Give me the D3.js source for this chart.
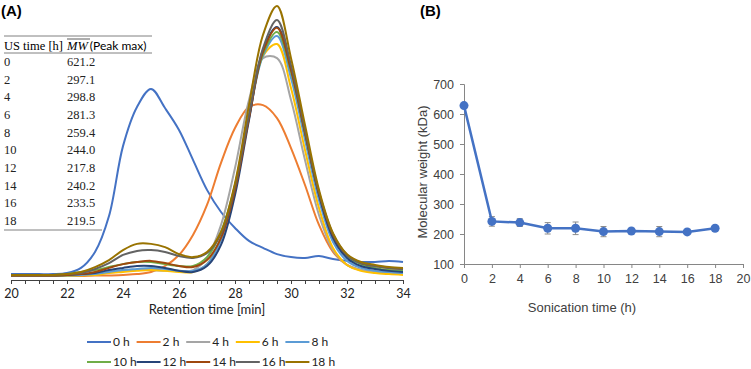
<!DOCTYPE html>
<html>
<head>
  <meta charset="utf-8" />
  <title>Sonication GPC</title>
  <script src="https://d3js.org/d3.v7.min.js"></script>
  <style>
    body { margin: 0; background: #fff; }
    svg { display: block; font-family: "Liberation Sans", Arial, sans-serif; }
  </style>
</head>
<body>
<div id="chart"></div>
<script>
// ---- panel A: GPC traces (relative detector signal vs retention time)
const retention = [20, 20.5, 21, 21.5, 22, 22.5, 23, 23.5, 24, 24.5, 25, 25.5, 26, 26.5, 27,
  27.5, 28, 28.5, 29, 29.5, 30, 30.5, 31, 31.5, 32, 32.5, 33, 33.5, 34];

const sig0h  = [0.7, 0.7, 0.7, 0.7, 1.1, 3.0, 8.9, 22.2, 48.1, 62.6, 69.3, 62.2, 54.1, 43.0, 31.9,
  23.7, 17.8, 13.0, 10.4, 8.1, 7.0, 6.7, 7.4, 6.3, 5.6, 5.2, 5.2, 5.6, 5.2];
const sig2h  = [0, 0, 0, 0, 0, 0, 0.2, 0.2, 0.4, 0.7, 1.5, 3.7, 7.8, 15.2, 26.3,
  41.9, 54.8, 62.6, 63.3, 58.5, 47.4, 33.7, 18.9, 8.9, 4.1, 2.2, 1.5, 1.1, 1.1];
const sig4h  = [0.2, 0.2, 0.2, 0.2, 0.2, 0.4, 0.7, 1.5, 1.9, 2.2, 2.2, 1.9, 1.9, 2.2, 6.7,
  18.9, 40.0, 65.2, 80.7, 80.7, 65.2, 43.0, 22.6, 9.6, 4.1, 2.2, 1.5, 1.1, 0.7];
const sig6h  = [0, 0, 0, 0, 0, 0.2, 0.4, 1.1, 1.5, 1.9, 2.2, 1.9, 1.5, 1.5, 4.4,
  14.1, 33.7, 59.6, 81.5, 85.9, 69.6, 46.7, 25.2, 10.4, 4.1, 1.9, 1.1, 0.7, 0.4];
const sig8h  = [0.2, 0.2, 0.2, 0.2, 0.2, 0.4, 0.7, 1.5, 2.2, 2.6, 3.0, 2.6, 1.9, 1.9, 4.4,
  13.3, 32.6, 58.5, 81.5, 88.9, 73.3, 50.4, 28.1, 12.6, 5.6, 3.0, 1.9, 1.5, 1.1];
const sig10h = [0.4, 0.4, 0.4, 0.4, 0.7, 1.5, 2.2, 3.3, 4.4, 5.2, 5.2, 4.4, 3.7, 3.7, 7.0,
  16.3, 33.7, 59.6, 82.2, 90.4, 75.6, 52.6, 30.4, 14.8, 7.4, 4.4, 3.0, 2.2, 1.9];
const sig12h = [0.2, 0.2, 0.2, 0.2, 0.4, 0.7, 1.1, 2.2, 3.0, 3.7, 3.7, 3.0, 1.9, 1.5, 3.7,
  11.5, 30.0, 57.8, 83.7, 92.2, 77.0, 53.3, 30.0, 14.1, 6.7, 3.7, 2.6, 1.9, 1.5];
const sig14h = [0.2, 0.2, 0.2, 0.2, 0.4, 0.7, 1.5, 3.0, 4.4, 5.2, 5.6, 4.8, 3.7, 3.3, 5.9,
  14.1, 31.9, 58.5, 83.0, 91.9, 76.3, 53.0, 30.7, 15.2, 7.8, 4.8, 3.7, 3.0, 2.6];
const sig16h = [0.4, 0.4, 0.4, 0.4, 0.7, 1.1, 2.6, 4.8, 7.8, 9.3, 9.6, 8.9, 7.4, 6.7, 8.5,
  15.6, 33.3, 59.6, 84.4, 94.8, 78.1, 54.1, 31.1, 15.6, 7.8, 4.8, 3.7, 3.0, 2.6];
const sig18h = [0.4, 0.4, 0.4, 0.4, 0.7, 1.5, 3.3, 5.9, 9.6, 11.9, 11.9, 10.7, 8.1, 7.0, 8.9,
  16.3, 34.4, 63.3, 89.3, 100, 80.7, 55.9, 31.9, 15.9, 8.1, 5.2, 4.1, 3.3, 3.0];

const traceLabels = ["0 h", "2 h", "4 h", "6 h", "8 h", "10 h", "12 h", "14 h", "16 h", "18 h"];
const traceColors = ["#4472c4", "#ed7d31", "#a5a5a5", "#ffc000", "#5b9bd5",
  "#70ad47", "#264478", "#9e480e", "#636363", "#997300"];
const traceValues = [sig0h, sig2h, sig4h, sig6h, sig8h, sig10h, sig12h, sig14h, sig16h, sig18h];

const retentionTicks = [20, 22, 24, 26, 28, 30, 32, 34];

// inset table
const tableTimes = ["0", "2", "4", "6", "8", "10", "12", "14", "16", "18"];
const tablePeakMw = ["621.2", "297.1", "298.8", "281.3", "259.4", "244.0", "217.8", "240.2", "233.5", "219.5"];

// ---- panel B: molecular weight vs sonication time
const sonicTime = [0, 2, 4, 6, 8, 10, 12, 14, 16, 18];
const mwMean = [628, 242, 238, 219, 219, 208, 210, 208, 207, 219];
const mwErr = [5, 16, 13, 19, 21, 17, 4, 17, 4, 6];

const width = 751, height = 369;
const svg = d3.select("#chart").append("svg")
  .attr("width", width).attr("height", height);

const sansA = "Lato, 'Liberation Sans', sans-serif";

// ===== Panel A =====
const xA = d3.scaleLinear().domain([20, 34]).range([11, 403]);
const yA = d3.scaleLinear().domain([0, 100]).range([276, 6]);

svg.append("text").attr("x", 1).attr("y", 16)
  .attr("font-size", 15).attr("font-weight", "bold").text("(A)");

// table
const tbl = svg.append("g");
tbl.append("line").attr("x1", 4).attr("x2", 152).attr("y1", 36).attr("y2", 36)
  .attr("stroke", "#808080");
tbl.append("line").attr("x1", 4).attr("x2", 152).attr("y1", 53).attr("y2", 53)
  .attr("stroke", "#808080");
tbl.append("line").attr("x1", 4).attr("x2", 102).attr("y1", 230).attr("y2", 230)
  .attr("stroke", "#808080");
tbl.append("text").attr("x", 4).attr("y", 50)
  .attr("font-family", "'Liberation Serif', serif").attr("font-size", 12.5)
  .text("US time [h]");
const mwHead = tbl.append("text").attr("x", 67).attr("y", 50);
mwHead.append("tspan").attr("font-family", "'Liberation Serif', serif")
  .attr("font-style", "italic").attr("font-size", 12.5).text("MW");
mwHead.append("tspan").attr("font-family", sansA).attr("font-size", 12)
  .attr("dx", 2).text("(Peak max)");
tbl.append("line").attr("x1", 67).attr("x2", 90).attr("y1", 39).attr("y2", 39)
  .attr("stroke", "#333").attr("stroke-width", 0.8);

const rowY = d3.scaleLinear().domain([0, 9]).range([66, 225]);
tbl.selectAll(".t").data(tableTimes).enter().append("text")
  .attr("x", 4).attr("y", (d, i) => rowY(i))
  .attr("font-family", "'Liberation Serif', serif").attr("font-size", 12.5)
  .attr("fill", "#222").text(d => d);
tbl.selectAll(".m").data(tablePeakMw).enter().append("text")
  .attr("x", 67).attr("y", (d, i) => rowY(i))
  .attr("font-family", "'Liberation Serif', serif").attr("font-size", 12.5)
  .attr("fill", "#222").text(d => d);

// traces
const lineA = d3.line()
  .x((d, i) => xA(retention[i]))
  .y(d => yA(d))
  .curve(d3.curveCatmullRom.alpha(0.5));

svg.append("g").selectAll("path").data(traceValues).enter().append("path")
  .attr("d", d => lineA(d))
  .attr("fill", "none")
  .attr("stroke", (d, i) => traceColors[i])
  .attr("stroke-width", 2);

// x axis
const axA = svg.append("g").attr("transform", "translate(0,280)")
  .call(d3.axisBottom(xA).tickValues(retention).tickSize(4)
    .tickFormat(d => retentionTicks.includes(d) ? d : ""));
axA.select(".domain").attr("stroke", "#404040");
axA.selectAll(".tick line").attr("stroke", "#404040");
axA.selectAll(".tick text").attr("font-family", sansA).attr("font-size", 12.5)
  .attr("fill", "#222").attr("dy", "0.85em");

svg.append("text").attr("x", 207).attr("y", 314).attr("text-anchor", "middle")
  .attr("font-family", sansA).attr("font-size", 13).attr("fill", "#222")
  .text("Retention time [min]");

// legend
const leg = svg.append("g");
traceLabels.forEach((lab, i) => {
  const col = i % 5, row = Math.floor(i / 5);
  const x0 = 87 + col * 49.6, y0 = 342 + row * 20;
  leg.append("line").attr("x1", x0).attr("x2", x0 + 24).attr("y1", y0).attr("y2", y0)
    .attr("stroke", traceColors[i]).attr("stroke-width", 2);
  leg.append("text").attr("x", x0 + 26).attr("y", y0).attr("dy", "0.35em")
    .attr("font-family", sansA).attr("font-size", 12).attr("fill", "#222").text(lab);
});

// ===== Panel B =====
const xB = d3.scaleLinear().domain([0, 20]).range([464, 743]);
const yB = d3.scaleLinear().domain([100, 700]).range([264, 84]);
const axisCol = "#868686", labCol = "#404040";

svg.append("text").attr("x", 420).attr("y", 16)
  .attr("font-size", 15).attr("font-weight", "bold").text("(B)");

const axY = svg.append("g").attr("transform", "translate(464,0)")
  .call(d3.axisLeft(yB).tickValues([100, 200, 300, 400, 500, 600, 700]).tickSize(4).tickPadding(6));
const axX = svg.append("g").attr("transform", "translate(0,264)")
  .call(d3.axisBottom(xB).tickValues([0, 2, 4, 6, 8, 10, 12, 14, 16, 18, 20]).tickSize(4).tickPadding(6));
[axY, axX].forEach(a => {
  a.select(".domain").attr("stroke", axisCol);
  a.selectAll(".tick line").attr("stroke", axisCol);
  a.selectAll(".tick text").attr("font-family", "'Liberation Sans', Arial, sans-serif")
    .attr("font-size", 12.5).attr("fill", labCol);
});

svg.append("text").attr("transform", "translate(427,172) rotate(-90)")
  .attr("text-anchor", "middle").attr("font-size", 13).attr("fill", labCol)
  .text("Molecular weight (kDa)");
svg.append("text").attr("x", 582).attr("y", 312).attr("text-anchor", "middle")
  .attr("font-size", 13).attr("fill", labCol).text("Sonication time (h)");

// error bars
const eb = svg.append("g").attr("stroke", "#8c8c8c").attr("stroke-width", 1);
sonicTime.forEach((t, i) => {
  const x = xB(t), y1 = yB(mwMean[i] - mwErr[i]), y2 = yB(mwMean[i] + mwErr[i]);
  eb.append("line").attr("x1", x).attr("x2", x).attr("y1", y1).attr("y2", y2);
  eb.append("line").attr("x1", x - 3).attr("x2", x + 3).attr("y1", y1).attr("y2", y1);
  eb.append("line").attr("x1", x - 3).attr("x2", x + 3).attr("y1", y2).attr("y2", y2);
});

const lineB = d3.line().x((d, i) => xB(sonicTime[i])).y(d => yB(d));
svg.append("path").attr("d", lineB(mwMean)).attr("fill", "none")
  .attr("stroke", "#4472c4").attr("stroke-width", 2.5);
svg.append("g").selectAll("circle").data(mwMean).enter().append("circle")
  .attr("cx", (d, i) => xB(sonicTime[i])).attr("cy", d => yB(d)).attr("r", 4.5)
  .attr("fill", "#4472c4");
</script>
</body>
</html>
